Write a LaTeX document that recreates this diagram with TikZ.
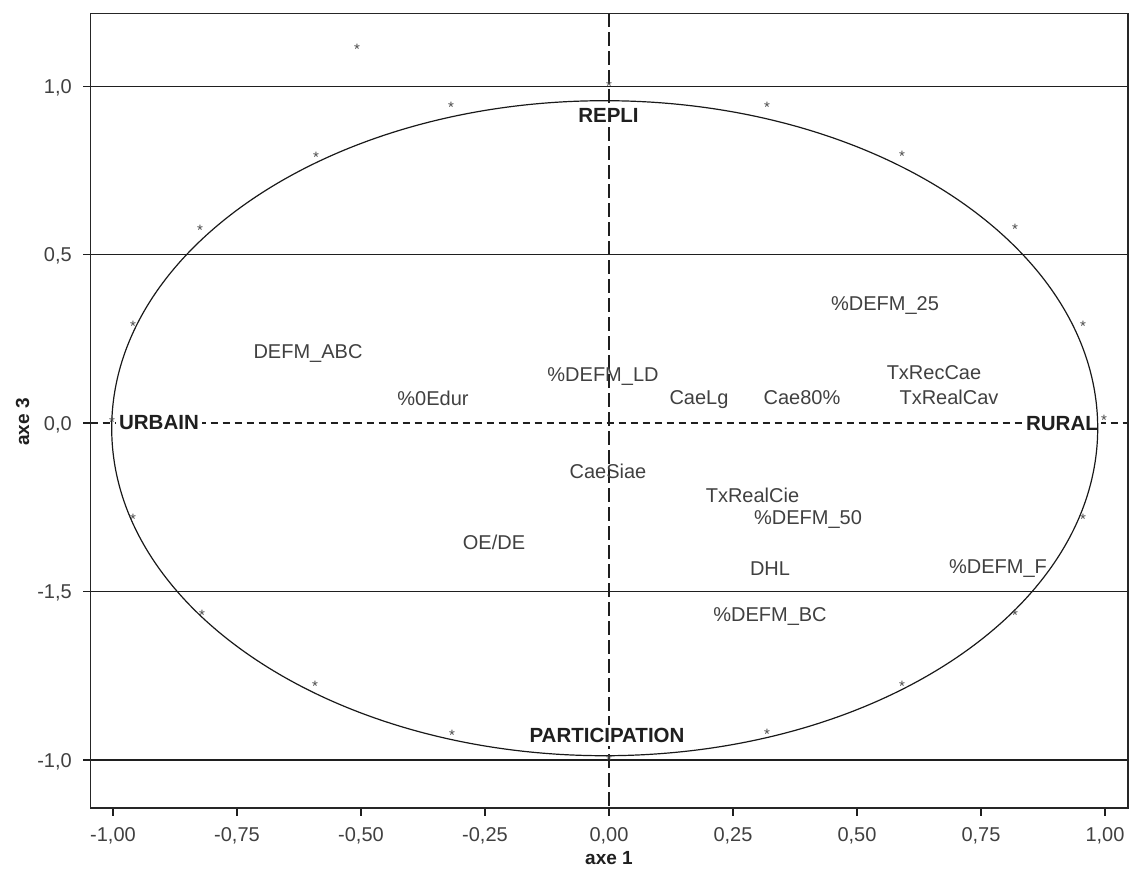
\documentclass[tikz,border=0pt]{standalone}
\usepackage{fontspec}
\setmainfont{Liberation Sans}
\begin{document}
\begin{tikzpicture}[x=1pt,y=-1pt,
  lab/.style={anchor=base,yshift=-7pt,inner sep=0pt,text=black!75,font=\fontsize{20}{24}\selectfont},
  pole/.style={anchor=base,yshift=-7.5pt,inner sep=3pt,fill=white,text=black!88,font=\fontsize{20.5}{24}\selectfont\bfseries},
  ast/.style={anchor=base,yshift=-8.5pt,inner sep=0pt,text=black!72,font=\fontsize{15}{17}\selectfont},
  ynum/.style={anchor=base east,yshift=-7pt,inner sep=0pt,text=black!75,font=\fontsize{20}{24}\selectfont},
  xnum/.style={anchor=base,yshift=-7pt,inner sep=0pt,text=black!75,font=\fontsize{20}{24}\selectfont},
  axtitle/.style={inner sep=0pt,text=black!88,font=\fontsize{19}{23}\selectfont\bfseries},
  gridline/.style={line width=1.1pt,draw=black!88},
  frameline/.style={line width=1.4pt,draw=black!85},
  hdash/.style={line width=1.1pt,draw=black!88,dash pattern=on 7pt off 5pt},
  vdash/.style={line width=1.1pt,draw=black!88,dash pattern=on 14pt off 5pt},
  circ/.style={line width=1.2pt,draw=black!90}
]
\useasboundingbox (0,0) rectangle (1129,876);

% grid lines
\foreach \yy in {86.3,254.5,591.5,760} {
  \draw[gridline] (90.5,\yy) -- (1128,\yy);
  \draw[gridline] (83,\yy) -- (90.5,\yy);
}
\draw[gridline] (83,423) -- (90.5,423);
% x ticks
\foreach \xx in {113,237,361,485,609,733,857,981,1105} {
  \draw[gridline] (\xx,808) -- (\xx,816);
}
% dashed axes
\draw[hdash] (90.5,423) -- (1128,423);
\draw[vdash] (609,13.3) -- (609,808);

% frame
\draw[frameline] (90.5,13.3) rectangle (1128,808);

% pole labels (white background)
\node[pole] (repli) at (608.5,114.5) {REPLI};
\node[pole] (part) at (607,735) {PARTICIPATION};
\node[pole] (urb) at (159,421.5) {URBAIN};
\node[pole] (rur) at (1062,422.5) {RURAL};

% correlation ellipse
\draw[circ] (604.7,428.2) ellipse [x radius=493, y radius=327.5];

% stars
\foreach \sx/\sy [count=\i] in {357/46,609/83,451/104,767/104,316/154,902/153,200/227,1015/226,133/323,1083/323,112/419,1104/417,133/516,1083/516,202/612,1015/612,315/683,902/683,452/732,767/731,609/757} {
  \node[ast] (s\i) at (\sx,\sy) {*};
}

% variable labels
\node[lab] (defmabc) at (308,351) {DEFM\_ABC};
\node[lab] (oedur) at (433,398) {\%0Edur};
\node[lab] (defmld) at (603,374) {\%DEFM\_LD};
\node[lab] (caelg) at (699,397.5) {CaeLg};
\node[lab] (cae80) at (802,397.5) {Cae80\%};
\node[lab] (defm25) at (885,303) {\%DEFM\_25};
\node[lab] (txreccae) at (934,372.5) {TxRecCae};
\node[lab] (txrealcav) at (949,397) {TxRealCav};
\node[lab] (caesiae) at (608,471.5) {CaeSiae};
\node[lab] (txrealcie) at (752.5,495.5) {TxRealCie};
\node[lab] (defm50) at (808,517) {\%DEFM\_50};
\node[lab] (oede) at (494,542.5) {OE/DE};
\node[lab] (dhl) at (770,568) {DHL};
\node[lab] (defmf) at (998,566) {\%DEFM\_F};
\node[lab] (defmbc) at (770,614) {\%DEFM\_BC};

% y tick labels
\node[ynum] (y1) at (72,86.3) {1,0};
\node[ynum] (y2) at (72,254.5) {0,5};
\node[ynum] (y3) at (72,423) {0,0};
\node[ynum] (y4) at (72,591.5) {-1,5};
\node[ynum] (y5) at (72,760) {-1,0};

% x tick labels
\foreach \xx/\tl [count=\i] in {113/{-1,00},237/{-0,75},361/{-0,50},485/{-0,25},609/{0,00},733/{0,25},857/{0,50},981/{0,75},1105/{1,00}} {
  \node[xnum] (x\i) at (\xx,834.5) {\tl};
}

% axis titles
\node[axtitle] (axe1) at (609,858) {axe 1};
\node[axtitle,rotate=90] (axe3) at (22.5,422) {axe 3};
\end{tikzpicture}
\end{document}
